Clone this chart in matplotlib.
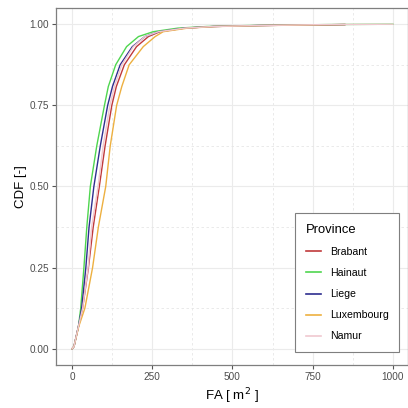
import numpy as np
import matplotlib.pyplot as plt

plt.rcParams['font.family'] = ['Liberation Sans', 'DejaVu Sans']

# CDF levels (shared by every province)
cdf = [0, 0.007, 0.069, 0.125, 0.25, 0.375, 0.5, 0.625, 0.75, 0.808, 0.875,
       0.931, 0.962, 0.977, 0.988, 0.993, 0.996, 0.999, 1.0]

fa_brabant = [0, 6, 20, 33, 51, 66, 85, 103, 124, 138, 163, 201, 238, 274, 350, 440, 580, 850]
fa_hainaut = [0, 6, 20, 27, 37, 46, 57, 77, 101, 113, 136, 170, 207, 253, 330, 420, 550, 800, 1000]
fa_liege = [0, 6, 20, 30, 43, 53, 68, 88, 111, 126, 150, 188, 227, 270, 350, 440, 580, 850]
fa_luxembourg = [0, 6, 21, 40, 64, 82, 105, 119, 139, 155, 178, 222, 259, 284, 360, 450, 600, 850]
fa_namur = [0, 6, 20, 33, 50, 61, 81, 97, 118, 132, 155, 191, 227, 270, 350, 440, 580, 800, 1000]

provinces = ['Brabant', 'Hainaut', 'Liege', 'Luxembourg', 'Namur']
series = [fa_brabant, fa_hainaut, fa_liege, fa_luxembourg, fa_namur]
colors = ['#C0393B', '#4FD64F', '#2E2E8F', '#EDB040', '#F0C8D0']

fig = plt.figure(figsize=(4.08, 4.08), dpi=100)
ax = fig.add_axes([56/408, 43/408, 352/408, 357/408])

for name, fa, c in zip(provinces, series, colors):
    ax.plot(fa, cdf[:len(fa)], color=c, lw=1.0, label=name)

ax.set_xlim(-50, 1047)
ax.set_ylim(-0.05, 1.05)
ax.set_xticks([0, 250, 500, 750, 1000])
ax.set_yticks([0, 0.25, 0.5, 0.75, 1.0])
ax.set_yticklabels(['0.00', '0.25', '0.50', '0.75', '1.00'])
ax.set_xticks([125, 375, 625, 875], minor=True)
ax.set_yticks([0.125, 0.375, 0.625, 0.875], minor=True)
ax.grid(which='major', color='#EBEBEB', lw=0.8)
ax.grid(which='minor', color='#E6E6E6', lw=0.6, ls=(0, (3, 3)))
ax.set_axisbelow(True)
ax.tick_params(which='major', length=3, width=0.8, color='#555555',
               labelsize=7.2, labelcolor='#4D4D4D', pad=2)
ax.tick_params(which='minor', length=0)
for s in ax.spines.values():
    s.set_color('#7F7F7F')
    s.set_linewidth(0.9)

ax.set_xlabel('FA [ m$^2$ ]', fontsize=9.5, labelpad=3)
ax.set_ylabel('CDF [-]', fontsize=9.5, labelpad=2)

leg = ax.legend(title='Province', loc='lower left', bbox_to_anchor=(295/408, 56/408),
                bbox_transform=fig.transFigure, borderaxespad=0, fontsize=7.6,
                title_fontsize=9.4, handlelength=1.5, handletextpad=0.8,
                labelspacing=1.05, borderpad=1.0, fancybox=False,
                edgecolor='#7F7F7F', framealpha=1)
leg._legend_box.align = 'left'
leg.get_frame().set_linewidth(0.8)
for line in leg.get_lines():
    line.set_linewidth(1.2)

fig.savefig('out.png', dpi=100)
